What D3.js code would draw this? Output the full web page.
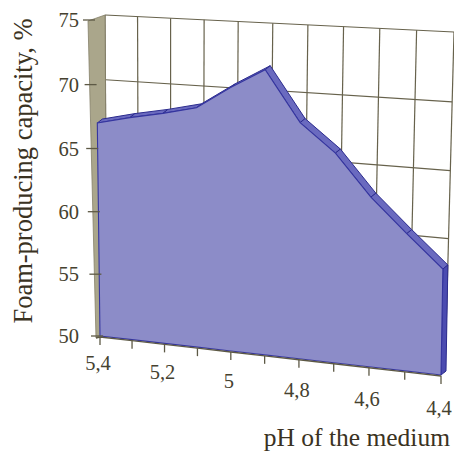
<!DOCTYPE html>
<html><head><meta charset="utf-8">
<script src="https://cdn.jsdelivr.net/npm/d3@7"></script>
<style>html,body{margin:0;padding:0;background:#fff;} svg{display:block;}</style>
</head><body>
<svg id="chart" width="454" height="455"></svg>
<script>
// ---- data ----
const phValues = [5.4, 5.3, 5.2, 5.1, 5.0, 4.9, 4.8, 4.7, 4.6, 4.5, 4.4];
const foamCapacity = [67.0, 67.6, 68.1, 68.7, 70.4, 71.9, 68.1, 66.0, 62.9, 60.4, 58.0];
const labelledPh = [5.4, 5.2, 5.0, 4.8, 4.6, 4.4];
const yTicks = [50, 55, 60, 65, 70, 75];
const yTitle = "Foam-producing capacity, %";
const xTitle = "pH of the medium";

const svg = d3.select("#chart");
const FONT = "'Liberation Serif','Times New Roman',serif";

const xScale = d3.scalePoint().domain(phValues).range([0, 1]);
const yScale = d3.scaleLinear().domain([50, 75]).range([0, 1]);
const fmt = d => String(d).replace(".", ",");

// projective map of unit square (t,u) onto a quadrilateral (perspective planes)
function homography(p00, p10, p11, p01) {
  const [x0, y0] = p00, [x1, y1] = p10, [x2, y2] = p11, [x3, y3] = p01;
  const dx1 = x1 - x2, dx2 = x3 - x2, dx3 = x0 - x1 + x2 - x3;
  const dy1 = y1 - y2, dy2 = y3 - y2, dy3 = y0 - y1 + y2 - y3;
  const den = dx1 * dy2 - dx2 * dy1;
  const g = (dx3 * dy2 - dx2 * dy3) / den;
  const h = (dx1 * dy3 - dx3 * dy1) / den;
  const a = x1 - x0 + g * x1, b = x3 - x0 + h * x3, c = x0;
  const d = y1 - y0 + g * y1, e = y3 - y0 + h * y3, f = y0;
  return (t, u) => {
    const w = g * t + h * u + 1;
    return [(a * t + b * u + c) / w, (d * t + e * u + f) / w];
  };
}
const front = homography([100, 336], [441, 375], [447, 37], [96, 20]);
const back = homography([107, 331], [445, 372], [454, 32], [105, 15]);
const depth = [5, -4];
const add = (p, q) => [p[0] + q[0], p[1] + q[1]];
const line = d3.line();

// ---- back wall grid ----
const grid = svg.append("g").attr("stroke", "#67624c").attr("stroke-width", 1.2).attr("fill", "none");
yTicks.forEach(v => {
  const u = yScale(v);
  grid.append("path").attr("d", line([back(0, u), back(1, u)]));
});
phValues.forEach(p => {
  const t = xScale(p);
  grid.append("path").attr("d", line([back(t, 0), back(t, 1)]));
});

// ---- side wall ----
const gx = u => 96 + (88 - 96) * u; // front-left edge of the side wall
svg.append("path")
  .attr("d", line([[gx(1), 21], back(0, 1), back(0, 0), [gx(0), 338]]) + "Z")
  .attr("fill", "#aaa68b").attr("stroke", "#85806a").attr("stroke-width", 0.8);

// ---- 3D area ----
const tops = phValues.map((p, i) => front(xScale(p), yScale(foamCapacity[i])));
const bots = phValues.map(p => front(xScale(p), yScale(50)));
const area = svg.append("g");
for (let i = 0; i < tops.length - 1; i++) {
  area.append("path")
    .attr("d", line([tops[i], tops[i + 1], add(tops[i + 1], depth), add(tops[i], depth)]) + "Z")
    .attr("fill", "#6a6abf").attr("stroke", "#2c2c8e").attr("stroke-width", 1);
}
const n = tops.length - 1;
area.append("path")
  .attr("d", line([tops[n], bots[n], add(bots[n], depth), add(tops[n], depth)]) + "Z")
  .attr("fill", "#4b4bb0").attr("stroke", "#2c2c8e").attr("stroke-width", 1);

// x axis line (floor front edge)
svg.append("path")
  .attr("d", line([[gx(0), 338], ...bots.map(b => [b[0], b[1] + 1])]))
  .attr("fill", "none").attr("stroke", "#5d5945").attr("stroke-width", 1.4);

area.append("path")
  .attr("d", line([...tops, ...bots.slice().reverse()]) + "Z")
  .attr("fill", "#8c8cc8").attr("stroke", "#3535a0").attr("stroke-width", 1.1);

// ---- y axis ----
const yAxis = svg.append("g");
yTicks.forEach(v => {
  const u = yScale(v);
  const y = front(0, u)[1];
  const x = gx(u);
  yAxis.append("line").attr("x1", x - 5).attr("x2", x + 7).attr("y1", y).attr("y2", y)
    .attr("stroke", "#5d5945").attr("stroke-width", 1.3);
  yAxis.append("text").attr("x", 79).attr("y", y).attr("dy", "0.35em")
    .attr("text-anchor", "end").attr("font-family", FONT).attr("font-size", 20.5)
    .attr("fill", "#45412f").text(v);
});

// ---- x axis ----
const xAxis = svg.append("g");
phValues.forEach(p => {
  const b = front(xScale(p), 0);
  xAxis.append("line").attr("x1", b[0]).attr("x2", b[0]).attr("y1", b[1] + 1).attr("y2", b[1] + 9)
    .attr("stroke", "#5d5945").attr("stroke-width", 1.3);
});
labelledPh.forEach(p => {
  const t = xScale(p);
  const b = front(t, 0);
  xAxis.append("text").attr("x", b[0] - 2).attr("y", b[1] + 27 + 6 * t).attr("dy", "0.35em")
    .attr("text-anchor", "middle").attr("font-family", FONT).attr("font-size", 20.5)
    .attr("fill", "#45412f").text(fmt(p));
});

// ---- titles ----
svg.append("text").attr("transform", "translate(32,171) rotate(-90)")
  .attr("text-anchor", "middle").attr("font-family", FONT).attr("font-size", 26.5)
  .attr("fill", "#3a3222").text(yTitle);
svg.append("text").attr("x", 450).attr("y", 446)
  .attr("text-anchor", "end").attr("font-family", FONT).attr("font-size", 25.5)
  .attr("fill", "#3a3222").text(xTitle);
</script>
</body></html>
